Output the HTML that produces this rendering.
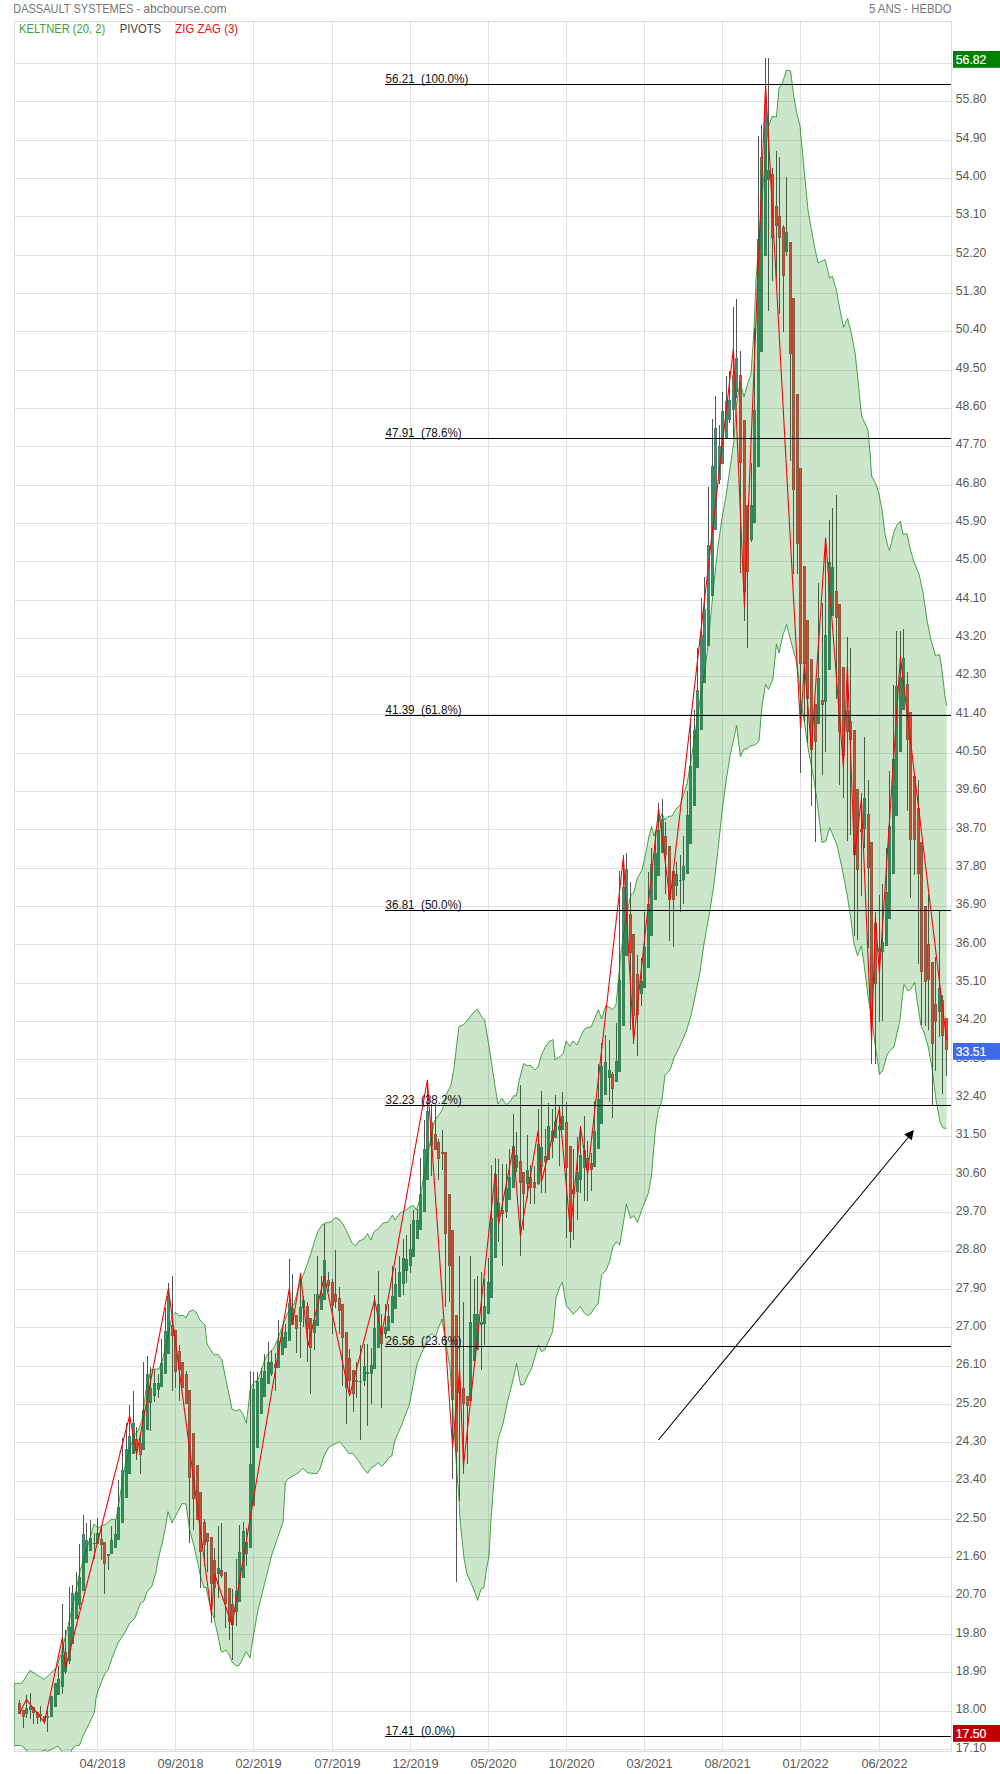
<!DOCTYPE html>
<html lang="fr"><head><meta charset="utf-8"><title>DASSAULT SYSTEMES - abcbourse.com</title>
<style>html,body{margin:0;padding:0;background:#fff}svg{display:block}</style></head>
<body>
<svg width="1000" height="1774" viewBox="0 0 1000 1774" font-family="'Liberation Sans', sans-serif" font-size="12.2">
<rect width="1000" height="1774" fill="#fff"/>
<path d="M14.5 63.5H951.5 M14.5 101.5H951.5 M14.5 140.5H951.5 M14.5 178.5H951.5 M14.5 216.5H951.5 M14.5 255.5H951.5 M14.5 293.5H951.5 M14.5 331.5H951.5 M14.5 370.5H951.5 M14.5 408.5H951.5 M14.5 446.5H951.5 M14.5 485.5H951.5 M14.5 523.5H951.5 M14.5 561.5H951.5 M14.5 600.5H951.5 M14.5 638.5H951.5 M14.5 676.5H951.5 M14.5 714.5H951.5 M14.5 753.5H951.5 M14.5 791.5H951.5 M14.5 829.5H951.5 M14.5 868.5H951.5 M14.5 906.5H951.5 M14.5 944.5H951.5 M14.5 983.5H951.5 M14.5 1021.5H951.5 M14.5 1059.5H951.5 M14.5 1098.5H951.5 M14.5 1136.5H951.5 M14.5 1174.5H951.5 M14.5 1212.5H951.5 M14.5 1251.5H951.5 M14.5 1289.5H951.5 M14.5 1327.5H951.5 M14.5 1366.5H951.5 M14.5 1404.5H951.5 M14.5 1442.5H951.5 M14.5 1481.5H951.5 M14.5 1519.5H951.5 M14.5 1557.5H951.5 M14.5 1596.5H951.5 M14.5 1634.5H951.5 M14.5 1672.5H951.5 M14.5 1711.5H951.5 M14.5 1749.5H951.5 M97.5 21.5V1751.5 M175.5 21.5V1751.5 M253.5 21.5V1751.5 M332.5 21.5V1751.5 M410.5 21.5V1751.5 M488.5 21.5V1751.5 M566.5 21.5V1751.5 M644.5 21.5V1751.5 M722.5 21.5V1751.5 M800.5 21.5V1751.5 M879.5 21.5V1751.5" stroke="#e0e0e0" stroke-width="1" fill="none" shape-rendering="crispEdges"/>
<rect x="14.5" y="21.5" width="937.0" height="1730.0" fill="none" stroke="#dcdcdc" stroke-width="1" shape-rendering="crispEdges"/>
<clipPath id="cp"><rect x="14.0" y="21.5" width="938.0" height="1730.1"/></clipPath>
<g clip-path="url(#cp)">
<path d="M19.5 1700.0V1714.0M23.5 1710.0V1727.6M26.5 1695.0V1718.0M30.5 1693.4V1719.0M33.5 1707.0V1724.0M37.5 1711.6V1724.4M40.5 1706.0V1722.0M44.5 1715.6V1724.4M47.5 1706.0V1731.6M51.5 1696.4V1717.0M55.5 1683.0V1707.0M58.5 1666.0V1695.0M62.5 1604.0V1693.6M65.5 1630.0V1674.4M69.5 1587.0V1664.4M72.5 1585.0V1644.0M76.5 1571.6V1619.0M79.5 1544.0V1609.0M83.5 1515.0V1591.0M86.5 1523.0V1563.0M90.5 1520.0V1551.0M94.5 1533.0V1559.0M97.5 1518.0V1544.4M101.5 1525.6V1559.6M104.5 1542.4V1594.4M108.5 1553.6V1570.4M111.5 1526.4V1554.4M115.5 1520.0V1547.6M118.5 1480.0V1540.0M122.5 1438.0V1523.0M126.5 1423.0V1497.6M129.5 1405.0V1473.6M133.5 1391.0V1454.0M136.5 1427.0V1460.0M140.5 1434.0V1473.6M143.5 1362.0V1449.6M147.5 1356.0V1430.0M150.5 1367.0V1431.0M154.5 1370.0V1402.0M158.5 1374.0V1398.0M161.5 1339.0V1387.0M165.5 1308.0V1374.4M168.5 1283.0V1353.6M172.5 1276.0V1391.0M175.5 1330.0V1388.0M179.5 1345.0V1401.0M182.5 1361.6V1388.0M186.5 1371.0V1404.0M189.5 1389.6V1543.0M193.5 1433.0V1530.0M197.5 1465.0V1520.0M200.5 1492.0V1588.0M204.5 1519.0V1566.0M207.5 1533.0V1572.0M211.5 1537.0V1623.0M214.5 1548.0V1618.0M218.5 1526.0V1598.4M221.5 1523.0V1578.0M225.5 1572.4V1628.0M229.5 1588.0V1640.0M232.5 1589.0V1659.6M236.5 1559.0V1626.0M239.5 1525.0V1601.6M243.5 1522.0V1577.6M246.5 1528.0V1566.0M250.5 1371.0V1548.4M253.5 1372.0V1506.4M257.5 1372.0V1447.6M261.5 1368.0V1414.4M264.5 1354.0V1397.0M268.5 1342.0V1384.4M271.5 1350.0V1376.0M275.5 1353.0V1391.0M278.5 1320.0V1367.6M282.5 1326.0V1355.0M285.5 1324.0V1348.0M289.5 1259.0V1341.0M292.5 1274.0V1325.0M296.5 1315.0V1353.0M300.5 1273.0V1358.0M303.5 1296.0V1327.0M307.5 1302.0V1361.6M310.5 1317.6V1394.4M314.5 1294.0V1350.0M317.5 1256.0V1326.4M321.5 1276.0V1310.4M324.5 1224.0V1299.6M328.5 1272.0V1292.0M332.5 1279.0V1334.0M335.5 1250.0V1308.0M339.5 1287.0V1334.0M342.5 1304.4V1385.6M346.5 1332.4V1424.4M349.5 1349.0V1392.0M353.5 1370.0V1411.6M356.5 1362.0V1398.0M360.5 1345.0V1440.0M364.5 1344.4V1386.4M367.5 1344.0V1425.6M371.5 1348.0V1403.6M374.5 1295.0V1369.0M378.5 1271.0V1348.4M381.5 1314.0V1408.4M385.5 1304.0V1338.0M388.5 1304.0V1331.0M392.5 1266.0V1323.0M395.5 1268.0V1309.0M399.5 1256.0V1297.0M403.5 1239.0V1295.0M406.5 1235.0V1283.0M410.5 1224.0V1273.0M413.5 1210.0V1257.0M417.5 1209.0V1239.0M420.5 1158.0V1229.6M424.5 1120.0V1212.4M427.5 1080.0V1180.4M431.5 1104.0V1176.0M435.5 1104.0V1150.4M438.5 1139.0V1180.0M442.5 1130.0V1170.0M445.5 1152.4V1307.0M449.5 1193.6V1302.0M452.5 1230.4V1478.6M456.5 1315.0V1582.4M459.5 1256.0V1500.6M463.5 1302.0V1474.0M467.5 1396.0V1464.0M470.5 1256.0V1401.0M474.5 1279.0V1361.0M477.5 1276.0V1350.0M481.5 1272.0V1370.0M484.5 1278.0V1345.0M488.5 1258.0V1314.0M491.5 1165.0V1297.6M495.5 1158.0V1258.4M498.5 1159.0V1242.0M502.5 1164.0V1265.6M506.5 1164.0V1218.0M509.5 1149.0V1200.0M513.5 1114.0V1188.4M516.5 1132.0V1172.0M520.5 1085.0V1255.6M523.5 1172.4V1229.6M527.5 1135.0V1198.0M530.5 1165.0V1204.0M534.5 1166.0V1204.4M538.5 1109.0V1184.5M541.5 1091.0V1193.0M545.5 1129.0V1193.0M548.5 1103.0V1159.6M552.5 1109.0V1158.0M555.5 1095.0V1137.5M559.5 1106.0V1166.0M562.5 1092.0V1129.6M566.5 1102.0V1238.0M570.5 1145.6V1247.6M573.5 1148.8V1239.7M577.5 1137.0V1219.6M580.5 1126.0V1192.8M584.5 1116.0V1200.8M587.5 1140.8V1200.8M591.5 1152.8V1190.7M594.5 1100.8V1166.7M598.5 1064.0V1149.0M601.5 1043.0V1124.0M605.5 1035.0V1095.0M609.5 1040.0V1102.0M612.5 1072.0V1117.6M616.5 1023.0V1082.0M619.5 871.0V1071.6M623.5 855.0V1026.4M626.5 853.0V956.4M630.5 882.0V1030.0M633.5 933.6V1044.0M637.5 955.0V1055.6M641.5 958.0V1005.6M644.5 912.0V988.4M648.5 872.0V967.6M651.5 848.0V935.6M655.5 832.0V899.6M658.5 803.0V876.0M662.5 799.0V853.0M665.5 822.0V893.6M669.5 846.4V941.0M673.5 871.0V947.0M676.5 862.0V896.0M680.5 855.0V911.6M683.5 836.0V904.4M687.5 791.0V873.6M690.5 724.0V844.0M694.5 710.0V805.6M697.5 648.0V767.6M701.5 598.0V729.6M704.5 577.0V683.0M708.5 487.0V645.6M712.5 419.0V595.6M715.5 396.0V530.4M719.5 425.0V484.0M722.5 392.0V463.6M726.5 376.0V437.6M729.5 371.0V423.0M733.5 307.0V438.0M736.5 299.0V398.0M740.5 351.0V573.0M744.5 419.6V621.0M747.5 505.0V648.0M751.5 463.0V541.6M754.5 328.0V523.0M758.5 136.0V467.0M761.5 125.0V352.4M765.5 58.0V255.6M768.5 58.0V311.0M772.5 168.0V281.0M776.5 151.0V279.0M779.5 157.0V313.6M783.5 225.0V331.6M786.5 177.0V255.6M790.5 242.0V461.0M793.5 298.0V573.6M797.5 394.0V574.0M800.5 468.0V773.0M804.5 566.0V722.0M807.5 620.4V743.0M811.5 659.0V805.6M815.5 704.0V841.6M818.5 583.0V723.6M822.5 603.0V775.0M825.5 538.0V752.0M829.5 520.0V669.6M832.5 508.0V616.0M836.5 495.0V698.5M839.5 604.0V785.0M843.5 667.0V798.0M847.5 637.0V840.5M850.5 648.0V834.5M854.5 730.0V936.0M857.5 789.0V939.6M861.5 793.0V896.0M864.5 737.0V848.0M868.5 780.0V948.4M871.5 841.6V1064.4M875.5 912.0V1063.6M879.5 895.0V1022.4M882.5 884.0V1021.0M886.5 848.0V946.4M889.5 771.0V919.0M893.5 685.0V873.6M896.5 631.0V816.4M900.5 631.0V751.6M903.5 629.0V710.4M907.5 672.0V811.0M910.5 712.0V898.0M914.5 776.0V875.0M918.5 780.0V964.0M921.5 841.6V1025.0M925.5 906.4V1025.6M928.5 894.0V1030.4M932.5 961.6V1105.0M935.5 957.0V1071.0M939.5 911.0V1037.0M942.5 995.0V1093.6M946.5 1018.0V1076.4" stroke="#555555" stroke-width="1" fill="none" shape-rendering="crispEdges"/>
<path d="M25.0 1708h3v6h-3zM29.0 1706h3v4h-3zM46.0 1716h3v2h-3zM50.0 1696h3v21h-3zM54.0 1683h3v24h-3zM57.0 1679h3v16h-3zM61.0 1655h3v32h-3zM64.0 1652h3v20h-3zM68.0 1627h3v34h-3zM71.0 1593h3v51h-3zM75.0 1592h3v27h-3zM78.0 1577h3v28h-3zM82.0 1534h3v57h-3zM85.0 1540h3v23h-3zM89.0 1538h3v13h-3zM93.0 1543h3v1h-3zM96.0 1533h3v11h-3zM110.0 1540h3v14h-3zM114.0 1534h3v14h-3zM117.0 1507h3v33h-3zM121.0 1470h3v53h-3zM125.0 1449h3v49h-3zM128.0 1436h3v38h-3zM132.0 1423h3v31h-3zM142.0 1410h3v40h-3zM146.0 1374h3v56h-3zM149.0 1388h3v15h-3zM153.0 1383h3v13h-3zM157.0 1383h3v7h-3zM160.0 1363h3v24h-3zM164.0 1331h3v43h-3zM167.0 1296h3v58h-3zM217.0 1568h3v6h-3zM235.0 1591h3v21h-3zM238.0 1552h3v50h-3zM242.0 1531h3v47h-3zM245.0 1542h3v12h-3zM249.0 1464h3v84h-3zM252.0 1389h3v117h-3zM256.0 1381h3v67h-3zM260.0 1378h3v36h-3zM263.0 1371h3v26h-3zM267.0 1362h3v22h-3zM270.0 1362h3v12h-3zM277.0 1341h3v27h-3zM281.0 1337h3v18h-3zM284.0 1332h3v16h-3zM288.0 1303h3v38h-3zM291.0 1308h3v17h-3zM299.0 1307h3v15h-3zM302.0 1300h3v8h-3zM313.0 1320h3v13h-3zM316.0 1294h3v32h-3zM320.0 1293h3v17h-3zM323.0 1260h3v40h-3zM355.0 1380h3v2h-3zM359.0 1381h3v1h-3zM363.0 1366h3v15h-3zM366.0 1372h3v2h-3zM370.0 1365h3v9h-3zM373.0 1328h3v41h-3zM377.0 1304h3v44h-3zM384.0 1327h3v7h-3zM387.0 1316h3v15h-3zM391.0 1296h3v27h-3zM394.0 1284h3v25h-3zM398.0 1272h3v25h-3zM402.0 1258h3v26h-3zM405.0 1259h3v12h-3zM409.0 1249h3v17h-3zM412.0 1220h3v37h-3zM416.0 1220h3v19h-3zM419.0 1194h3v36h-3zM423.0 1149h3v63h-3zM426.0 1111h3v69h-3zM469.0 1322h3v79h-3zM473.0 1314h3v47h-3zM476.0 1314h3v36h-3zM480.0 1322h3v3h-3zM483.0 1306h3v18h-3zM487.0 1282h3v32h-3zM490.0 1218h3v80h-3zM494.0 1174h3v84h-3zM497.0 1203h3v14h-3zM505.0 1188h3v24h-3zM508.0 1177h3v23h-3zM512.0 1146h3v42h-3zM515.0 1155h3v13h-3zM526.0 1170h3v14h-3zM537.0 1144h3v40h-3zM540.0 1147h3v20h-3zM547.0 1126h3v34h-3zM551.0 1131h3v11h-3zM554.0 1121h3v17h-3zM558.0 1126h3v4h-3zM561.0 1116h3v14h-3zM576.0 1172h3v20h-3zM579.0 1155h3v25h-3zM583.0 1150h3v18h-3zM593.0 1131h3v36h-3zM597.0 1099h3v50h-3zM600.0 1066h3v58h-3zM604.0 1062h3v33h-3zM608.0 1070h3v8h-3zM615.0 1061h3v21h-3zM618.0 980h3v92h-3zM622.0 887h3v139h-3zM625.0 869h3v87h-3zM640.0 981h3v13h-3zM643.0 947h3v41h-3zM647.0 904h3v64h-3zM650.0 864h3v72h-3zM654.0 853h3v47h-3zM657.0 830h3v46h-3zM661.0 819h3v34h-3zM675.0 874h3v12h-3zM679.0 880h3v1h-3zM682.0 866h3v14h-3zM686.0 815h3v59h-3zM689.0 766h3v78h-3zM693.0 730h3v76h-3zM696.0 690h3v78h-3zM700.0 635h3v95h-3zM703.0 609h3v74h-3zM707.0 545h3v101h-3zM711.0 466h3v130h-3zM714.0 428h3v102h-3zM718.0 446h3v34h-3zM721.0 411h3v53h-3zM725.0 401h3v37h-3zM728.0 400h3v20h-3zM732.0 375h3v35h-3zM735.0 358h3v34h-3zM750.0 505h3v35h-3zM753.0 410h3v113h-3zM757.0 239h3v228h-3zM760.0 157h3v195h-3zM764.0 106h3v150h-3zM767.0 170h3v10h-3zM785.0 232h3v20h-3zM817.0 678h3v46h-3zM824.0 635h3v67h-3zM828.0 562h3v108h-3zM831.0 567h3v49h-3zM863.0 798h3v31h-3zM878.0 948h3v4h-3zM881.0 942h3v10h-3zM885.0 892h3v54h-3zM888.0 826h3v93h-3zM892.0 759h3v115h-3zM895.0 686h3v130h-3zM899.0 677h3v75h-3zM902.0 658h3v52h-3zM938.0 988h3v24h-3z" fill="#46806c" shape-rendering="crispEdges"/>
<path d="M18.0 1703h3v11h-3zM22.0 1710h3v7h-3zM32.0 1707h3v6h-3zM36.0 1712h3v6h-3zM39.0 1714h3v2h-3zM43.0 1716h3v5h-3zM100.0 1539h3v6h-3zM103.0 1542h3v22h-3zM107.0 1554h3v2h-3zM135.0 1439h3v11h-3zM139.0 1443h3v12h-3zM171.0 1325h3v11h-3zM174.0 1330h3v42h-3zM178.0 1351h3v19h-3zM181.0 1362h3v26h-3zM185.0 1374h3v30h-3zM188.0 1390h3v88h-3zM192.0 1433h3v66h-3zM196.0 1465h3v55h-3zM199.0 1492h3v60h-3zM203.0 1522h3v23h-3zM206.0 1533h3v9h-3zM210.0 1537h3v47h-3zM213.0 1560h3v28h-3zM220.0 1570h3v6h-3zM224.0 1572h3v32h-3zM228.0 1588h3v34h-3zM231.0 1604h3v21h-3zM274.0 1364h3v4h-3zM295.0 1315h3v14h-3zM306.0 1306h3v23h-3zM309.0 1318h3v30h-3zM327.0 1280h3v6h-3zM331.0 1282h3v24h-3zM334.0 1294h3v8h-3zM338.0 1298h3v13h-3zM341.0 1304h3v34h-3zM345.0 1332h3v56h-3zM348.0 1358h3v23h-3zM352.0 1370h3v24h-3zM380.0 1328h3v16h-3zM430.0 1122h3v24h-3zM434.0 1134h3v16h-3zM437.0 1142h3v17h-3zM441.0 1152h3v2h-3zM444.0 1152h3v82h-3zM448.0 1194h3v72h-3zM451.0 1230h3v170h-3zM455.0 1315h3v137h-3zM458.0 1382h3v11h-3zM462.0 1388h3v16h-3zM466.0 1396h3v10h-3zM501.0 1210h3v4h-3zM519.0 1161h3v22h-3zM522.0 1172h3v22h-3zM529.0 1177h3v11h-3zM533.0 1182h3v6h-3zM544.0 1156h3v6h-3zM565.0 1122h3v46h-3zM569.0 1146h3v86h-3zM572.0 1189h3v5h-3zM586.0 1158h3v12h-3zM590.0 1163h3v7h-3zM611.0 1074h3v15h-3zM629.0 914h3v39h-3zM632.0 934h3v82h-3zM636.0 974h3v41h-3zM664.0 836h3v19h-3zM668.0 846h3v54h-3zM672.0 871h3v29h-3zM739.0 375h3v88h-3zM743.0 420h3v172h-3zM746.0 505h3v67h-3zM771.0 174h3v64h-3zM775.0 206h3v20h-3zM778.0 216h3v22h-3zM782.0 227h3v49h-3zM789.0 242h3v112h-3zM792.0 298h3v192h-3zM796.0 394h3v150h-3zM799.0 468h3v196h-3zM803.0 566h3v98h-3zM806.0 620h3v79h-3zM810.0 659h3v91h-3zM814.0 704h3v38h-3zM821.0 700h3v5h-3zM835.0 591h3v27h-3zM838.0 604h3v128h-3zM842.0 667h3v89h-3zM846.0 711h3v21h-3zM849.0 721h3v19h-3zM853.0 730h3v125h-3zM856.0 789h3v81h-3zM860.0 829h3v3h-3zM867.0 814h3v54h-3zM870.0 842h3v166h-3zM874.0 923h3v61h-3zM906.0 684h3v56h-3zM909.0 712h3v128h-3zM913.0 776h3v64h-3zM917.0 808h3v66h-3zM920.0 842h3v130h-3zM924.0 906h3v76h-3zM927.0 944h3v36h-3zM931.0 962h3v82h-3zM934.0 1004h3v18h-3zM941.0 1000h3v36h-3zM945.0 1018h3v32h-3z" fill="#b84a4c" shape-rendering="crispEdges"/>
<path d="M26.0 1709h1v4h-1zM30.0 1707h1v2h-1zM51.0 1697h1v19h-1zM55.0 1684h1v22h-1zM58.0 1680h1v14h-1zM62.0 1656h1v30h-1zM65.0 1653h1v18h-1zM69.0 1628h1v32h-1zM72.0 1594h1v49h-1zM76.0 1593h1v25h-1zM79.0 1578h1v26h-1zM83.0 1535h1v55h-1zM86.0 1541h1v21h-1zM90.0 1539h1v11h-1zM97.0 1534h1v9h-1zM111.0 1541h1v12h-1zM115.0 1535h1v12h-1zM118.0 1508h1v31h-1zM122.0 1471h1v51h-1zM126.0 1450h1v47h-1zM129.0 1437h1v36h-1zM133.0 1424h1v29h-1zM143.0 1411h1v38h-1zM147.0 1375h1v54h-1zM150.0 1389h1v13h-1zM154.0 1384h1v11h-1zM158.0 1384h1v5h-1zM161.0 1364h1v22h-1zM165.0 1332h1v41h-1zM168.0 1297h1v56h-1zM218.0 1569h1v4h-1zM236.0 1592h1v19h-1zM239.0 1553h1v48h-1zM243.0 1532h1v45h-1zM246.0 1543h1v10h-1zM250.0 1465h1v82h-1zM253.0 1390h1v115h-1zM257.0 1382h1v65h-1zM261.0 1379h1v34h-1zM264.0 1372h1v24h-1zM268.0 1363h1v20h-1zM271.0 1363h1v10h-1zM278.0 1342h1v25h-1zM282.0 1338h1v16h-1zM285.0 1333h1v14h-1zM289.0 1304h1v36h-1zM292.0 1309h1v15h-1zM300.0 1308h1v13h-1zM303.0 1301h1v6h-1zM314.0 1321h1v11h-1zM317.0 1295h1v30h-1zM321.0 1294h1v15h-1zM324.0 1261h1v38h-1zM364.0 1367h1v13h-1zM371.0 1366h1v7h-1zM374.0 1329h1v39h-1zM378.0 1305h1v42h-1zM385.0 1328h1v5h-1zM388.0 1317h1v13h-1zM392.0 1297h1v25h-1zM395.0 1285h1v23h-1zM399.0 1273h1v23h-1zM403.0 1259h1v24h-1zM406.0 1260h1v10h-1zM410.0 1250h1v15h-1zM413.0 1221h1v35h-1zM417.0 1221h1v17h-1zM420.0 1195h1v34h-1zM424.0 1150h1v61h-1zM427.0 1112h1v67h-1zM470.0 1323h1v77h-1zM474.0 1315h1v45h-1zM477.0 1315h1v34h-1zM481.0 1323h1v1h-1zM484.0 1307h1v16h-1zM488.0 1283h1v30h-1zM491.0 1219h1v78h-1zM495.0 1175h1v82h-1zM498.0 1204h1v12h-1zM506.0 1189h1v22h-1zM509.0 1178h1v21h-1zM513.0 1147h1v40h-1zM516.0 1156h1v11h-1zM527.0 1171h1v12h-1zM538.0 1145h1v38h-1zM541.0 1148h1v18h-1zM548.0 1127h1v32h-1zM552.0 1132h1v9h-1zM555.0 1122h1v15h-1zM559.0 1127h1v2h-1zM562.0 1117h1v12h-1zM577.0 1173h1v18h-1zM580.0 1156h1v23h-1zM584.0 1151h1v16h-1zM594.0 1132h1v34h-1zM598.0 1100h1v48h-1zM601.0 1067h1v56h-1zM605.0 1063h1v31h-1zM609.0 1071h1v6h-1zM616.0 1062h1v19h-1zM619.0 981h1v90h-1zM623.0 888h1v137h-1zM626.0 870h1v85h-1zM641.0 982h1v11h-1zM644.0 948h1v39h-1zM648.0 905h1v62h-1zM651.0 865h1v70h-1zM655.0 854h1v45h-1zM658.0 831h1v44h-1zM662.0 820h1v32h-1zM676.0 875h1v10h-1zM683.0 867h1v12h-1zM687.0 816h1v57h-1zM690.0 767h1v76h-1zM694.0 731h1v74h-1zM697.0 691h1v76h-1zM701.0 636h1v93h-1zM704.0 610h1v72h-1zM708.0 546h1v99h-1zM712.0 467h1v128h-1zM715.0 429h1v100h-1zM719.0 447h1v32h-1zM722.0 412h1v51h-1zM726.0 402h1v35h-1zM729.0 401h1v18h-1zM733.0 376h1v33h-1zM736.0 359h1v32h-1zM751.0 506h1v33h-1zM754.0 411h1v111h-1zM758.0 240h1v226h-1zM761.0 158h1v193h-1zM765.0 107h1v148h-1zM768.0 171h1v8h-1zM786.0 233h1v18h-1zM818.0 679h1v44h-1zM825.0 636h1v65h-1zM829.0 563h1v106h-1zM832.0 568h1v47h-1zM864.0 799h1v29h-1zM879.0 949h1v2h-1zM882.0 943h1v8h-1zM886.0 893h1v52h-1zM889.0 827h1v91h-1zM893.0 760h1v113h-1zM896.0 687h1v128h-1zM900.0 678h1v73h-1zM903.0 659h1v50h-1zM939.0 989h1v22h-1z" fill="#32966e" shape-rendering="crispEdges"/>
<path d="M19.0 1704h1v9h-1zM23.0 1711h1v5h-1zM33.0 1708h1v4h-1zM37.0 1713h1v4h-1zM44.0 1717h1v3h-1zM101.0 1540h1v4h-1zM104.0 1543h1v20h-1zM136.0 1440h1v9h-1zM140.0 1444h1v10h-1zM172.0 1326h1v9h-1zM175.0 1331h1v40h-1zM179.0 1352h1v17h-1zM182.0 1363h1v24h-1zM186.0 1375h1v28h-1zM189.0 1391h1v86h-1zM193.0 1434h1v64h-1zM197.0 1466h1v53h-1zM200.0 1493h1v58h-1zM204.0 1523h1v21h-1zM207.0 1534h1v7h-1zM211.0 1538h1v45h-1zM214.0 1561h1v26h-1zM221.0 1571h1v4h-1zM225.0 1573h1v30h-1zM229.0 1589h1v32h-1zM232.0 1605h1v19h-1zM275.0 1365h1v2h-1zM296.0 1316h1v12h-1zM307.0 1307h1v21h-1zM310.0 1319h1v28h-1zM328.0 1281h1v4h-1zM332.0 1283h1v22h-1zM335.0 1295h1v6h-1zM339.0 1299h1v11h-1zM342.0 1305h1v32h-1zM346.0 1333h1v54h-1zM349.0 1359h1v21h-1zM353.0 1371h1v22h-1zM381.0 1329h1v14h-1zM431.0 1123h1v22h-1zM435.0 1135h1v14h-1zM438.0 1143h1v15h-1zM445.0 1153h1v80h-1zM449.0 1195h1v70h-1zM452.0 1231h1v168h-1zM456.0 1316h1v135h-1zM459.0 1383h1v9h-1zM463.0 1389h1v14h-1zM467.0 1397h1v8h-1zM502.0 1211h1v2h-1zM520.0 1162h1v20h-1zM523.0 1173h1v20h-1zM530.0 1178h1v9h-1zM534.0 1183h1v4h-1zM545.0 1157h1v4h-1zM566.0 1123h1v44h-1zM570.0 1147h1v84h-1zM573.0 1190h1v3h-1zM587.0 1159h1v10h-1zM591.0 1164h1v5h-1zM612.0 1075h1v13h-1zM630.0 915h1v37h-1zM633.0 935h1v80h-1zM637.0 975h1v39h-1zM665.0 837h1v17h-1zM669.0 847h1v52h-1zM673.0 872h1v27h-1zM740.0 376h1v86h-1zM744.0 421h1v170h-1zM747.0 506h1v65h-1zM772.0 175h1v62h-1zM776.0 207h1v18h-1zM779.0 217h1v20h-1zM783.0 228h1v47h-1zM790.0 243h1v110h-1zM793.0 299h1v190h-1zM797.0 395h1v148h-1zM800.0 469h1v194h-1zM804.0 567h1v96h-1zM807.0 621h1v77h-1zM811.0 660h1v89h-1zM815.0 705h1v36h-1zM822.0 701h1v3h-1zM836.0 592h1v25h-1zM839.0 605h1v126h-1zM843.0 668h1v87h-1zM847.0 712h1v19h-1zM850.0 722h1v17h-1zM854.0 731h1v123h-1zM857.0 790h1v79h-1zM861.0 830h1v1h-1zM868.0 815h1v52h-1zM871.0 843h1v164h-1zM875.0 924h1v59h-1zM907.0 685h1v54h-1zM910.0 713h1v126h-1zM914.0 777h1v62h-1zM918.0 809h1v64h-1zM921.0 843h1v128h-1zM925.0 907h1v74h-1zM928.0 945h1v34h-1zM932.0 963h1v80h-1zM935.0 1005h1v16h-1zM942.0 1001h1v34h-1zM946.0 1019h1v30h-1z" fill="#ff4444" shape-rendering="crispEdges"/>
<path d="M14.0 1683.6 L22.0 1683.0 L30.0 1670.4 L44.0 1679.4 L54.0 1670.0 L57.0 1667.0 L62.0 1650.0 L68.0 1626.0 L74.0 1600.0 L80.0 1571.0 L84.0 1558.0 L90.0 1538.0 L94.0 1524.0 L98.0 1528.0 L102.0 1525.6 L106.0 1524.0 L112.0 1519.0 L116.0 1520.0 L118.0 1508.0 L126.0 1460.0 L134.0 1436.0 L138.0 1431.0 L142.0 1420.0 L146.0 1390.0 L151.0 1370.0 L155.0 1369.0 L159.0 1369.0 L162.0 1362.0 L167.0 1340.0 L170.0 1326.0 L172.0 1316.0 L175.0 1312.4 L180.0 1316.0 L183.0 1315.0 L186.0 1318.0 L189.0 1311.6 L193.0 1310.0 L196.0 1312.0 L200.0 1320.0 L205.0 1325.0 L207.0 1344.0 L214.0 1355.0 L218.0 1354.4 L222.0 1360.0 L226.0 1380.0 L232.0 1409.0 L236.0 1411.0 L239.6 1409.4 L243.0 1414.0 L246.4 1423.0 L248.4 1406.0 L250.0 1390.0 L254.0 1382.0 L258.0 1380.0 L264.0 1362.0 L267.0 1355.0 L274.0 1348.0 L280.0 1333.0 L287.0 1314.0 L294.0 1304.0 L299.0 1286.0 L304.0 1273.0 L310.0 1256.0 L314.0 1243.0 L318.0 1231.0 L322.0 1225.0 L325.0 1223.0 L331.0 1222.0 L335.0 1217.6 L339.0 1219.0 L343.0 1224.0 L347.0 1232.0 L352.0 1243.0 L355.6 1246.0 L359.0 1241.0 L364.0 1239.0 L367.6 1233.6 L371.0 1240.0 L374.0 1231.6 L378.0 1229.0 L383.0 1223.0 L388.0 1222.0 L392.4 1215.0 L395.0 1220.0 L400.0 1213.0 L406.0 1210.0 L410.0 1207.0 L413.4 1205.4 L416.4 1210.0 L419.0 1202.0 L420.0 1198.0 L424.0 1174.0 L429.0 1148.0 L434.0 1122.0 L437.0 1117.0 L441.0 1112.0 L444.0 1105.0 L446.0 1095.0 L451.0 1085.0 L454.0 1068.0 L457.0 1042.0 L459.0 1026.4 L463.0 1025.0 L467.0 1021.0 L473.0 1013.0 L477.4 1009.0 L481.0 1015.6 L484.6 1020.0 L487.0 1034.0 L491.0 1059.0 L495.0 1086.0 L498.0 1104.0 L502.0 1098.4 L506.0 1104.4 L509.0 1103.0 L514.0 1095.6 L516.4 1096.0 L519.0 1081.0 L523.6 1063.6 L527.0 1065.6 L531.0 1065.6 L535.0 1070.0 L538.0 1067.0 L541.0 1056.0 L545.0 1047.6 L549.0 1041.6 L553.0 1039.6 L555.0 1059.6 L560.0 1056.4 L563.0 1054.0 L566.0 1041.0 L570.0 1046.4 L573.0 1041.0 L577.0 1045.0 L580.0 1038.0 L584.0 1029.6 L587.0 1027.6 L591.0 1027.0 L595.0 1018.0 L598.4 1009.6 L601.6 1019.0 L605.6 1006.0 L609.0 1007.0 L612.4 1009.6 L616.0 1005.0 L618.4 980.0 L621.0 952.0 L624.0 932.0 L627.0 912.0 L631.0 894.4 L633.6 893.0 L637.0 879.0 L642.0 870.0 L646.0 852.0 L649.0 836.0 L651.6 826.4 L654.0 836.0 L657.0 826.0 L662.0 813.6 L665.0 820.0 L668.0 816.4 L672.0 816.0 L676.0 809.0 L679.0 806.0 L680.0 805.6 L687.0 784.0 L691.0 760.0 L695.0 734.0 L700.0 700.0 L704.0 676.0 L708.0 646.0 L713.0 592.0 L718.0 546.0 L722.0 518.0 L726.0 496.0 L734.0 440.0 L736.0 408.0 L740.0 382.0 L744.0 397.0 L747.6 384.0 L751.0 374.0 L754.0 330.0 L756.0 280.0 L765.0 160.0 L768.0 128.0 L772.0 116.4 L776.4 117.0 L779.0 88.0 L782.0 84.0 L786.6 70.0 L790.6 71.0 L794.0 98.0 L797.0 114.0 L800.0 126.0 L804.0 168.0 L808.0 210.0 L814.0 244.0 L818.0 263.0 L825.0 259.4 L829.6 278.0 L832.4 276.4 L836.4 290.0 L840.0 310.0 L843.6 327.4 L847.6 318.4 L851.0 332.0 L855.0 352.0 L858.0 380.0 L861.6 416.0 L868.0 430.0 L870.0 452.0 L871.6 476.0 L876.0 484.0 L879.0 494.0 L882.0 510.0 L885.0 534.0 L888.0 547.0 L889.6 550.4 L892.0 540.0 L894.0 531.6 L897.0 525.0 L900.4 521.0 L903.0 534.4 L907.0 533.6 L910.0 548.0 L914.0 562.0 L919.0 574.0 L923.0 592.0 L927.0 620.0 L931.0 640.0 L935.6 656.0 L939.6 654.4 L942.0 670.0 L945.0 696.0 L946.6 705.6 L946.6 1128.4 L943.0 1128.0 L940.0 1122.0 L936.0 1100.0 L932.0 1068.0 L928.0 1046.0 L924.0 1032.4 L921.0 1026.0 L917.0 1000.0 L914.6 982.4 L911.0 989.0 L908.0 991.0 L904.0 984.4 L902.0 1000.0 L900.0 1020.0 L894.0 1047.0 L889.6 1051.0 L887.0 1055.0 L883.0 1070.0 L879.6 1074.6 L875.0 1044.0 L872.0 1020.0 L868.0 996.0 L864.0 964.0 L861.4 946.0 L857.6 955.6 L854.0 944.0 L851.0 920.0 L847.0 894.0 L842.0 868.0 L837.0 845.0 L829.6 827.4 L826.0 841.0 L822.0 842.4 L817.0 800.0 L814.0 780.0 L808.0 748.0 L804.0 720.0 L800.6 700.0 L799.0 680.0 L796.0 660.0 L790.0 638.0 L786.6 624.4 L783.0 635.0 L779.0 653.0 L776.4 644.4 L773.0 679.0 L768.4 689.4 L765.6 684.4 L762.0 706.0 L759.0 741.0 L755.0 745.0 L751.0 745.6 L747.0 749.0 L744.0 749.0 L740.4 756.6 L736.6 725.6 L734.0 738.0 L730.0 756.0 L726.0 782.0 L722.0 812.0 L718.0 850.0 L714.0 884.0 L710.0 910.0 L704.0 944.0 L700.0 972.0 L696.0 992.0 L691.0 1016.0 L686.0 1032.0 L680.0 1046.0 L674.0 1058.0 L670.0 1070.0 L665.0 1075.0 L661.9 1100.8 L658.4 1110.4 L655.5 1128.0 L653.6 1150.4 L651.7 1174.4 L648.5 1192.8 L642.4 1208.0 L637.6 1222.4 L633.6 1215.7 L630.4 1218.4 L626.4 1204.0 L623.2 1224.0 L619.7 1245.3 L616.5 1241.6 L612.8 1247.2 L609.6 1261.6 L605.9 1270.4 L601.6 1275.2 L599.5 1292.8 L598.4 1303.2 L594.4 1308.0 L590.9 1313.6 L587.7 1315.5 L584.0 1312.8 L580.3 1306.4 L573.3 1314.4 L566.4 1305.6 L564.0 1294.0 L564.0 1292.8 L562.4 1282.4 L560.0 1286.0 L556.0 1298.0 L554.0 1320.0 L552.6 1331.6 L549.0 1340.0 L545.0 1349.6 L541.6 1351.6 L538.4 1345.0 L534.0 1360.0 L531.0 1370.0 L528.0 1375.0 L523.6 1385.0 L520.6 1385.0 L516.6 1363.6 L514.0 1376.0 L510.0 1392.0 L507.0 1404.0 L503.0 1424.0 L498.4 1438.0 L496.0 1456.0 L494.0 1480.0 L491.0 1520.0 L489.0 1556.0 L486.4 1570.0 L484.0 1587.4 L481.0 1589.0 L477.6 1600.4 L474.0 1590.0 L471.0 1583.0 L467.0 1574.0 L464.0 1558.0 L460.0 1520.0 L459.0 1500.0 L456.0 1460.0 L453.0 1412.0 L450.0 1368.0 L447.0 1350.0 L442.0 1319.0 L438.4 1328.0 L435.6 1337.0 L432.0 1333.6 L428.0 1336.0 L425.0 1346.0 L422.0 1352.0 L417.0 1364.0 L413.0 1386.0 L409.0 1406.0 L402.0 1424.0 L396.0 1438.0 L394.0 1444.0 L392.0 1455.6 L389.0 1457.6 L385.0 1463.0 L381.6 1466.4 L378.0 1462.4 L376.0 1465.0 L371.0 1468.0 L367.6 1473.4 L363.0 1468.0 L358.0 1460.0 L352.4 1453.0 L349.0 1453.6 L344.0 1447.0 L339.6 1441.6 L334.0 1444.4 L329.0 1447.0 L324.0 1456.0 L320.0 1469.0 L317.0 1473.6 L308.0 1473.0 L303.0 1468.4 L298.0 1473.0 L289.0 1478.0 L285.4 1482.0 L284.0 1506.0 L283.0 1522.0 L279.0 1534.0 L272.0 1554.0 L264.0 1586.0 L258.0 1610.0 L253.0 1638.0 L250.0 1658.0 L246.0 1651.6 L243.0 1658.0 L239.0 1665.6 L236.0 1665.6 L232.0 1662.0 L229.0 1654.0 L226.0 1650.0 L223.0 1652.0 L221.0 1651.0 L218.0 1636.0 L214.0 1618.0 L211.0 1610.0 L206.0 1587.0 L204.0 1588.0 L200.0 1574.0 L194.0 1546.0 L189.6 1530.0 L187.6 1516.0 L186.0 1504.0 L182.0 1503.6 L172.0 1523.0 L168.0 1511.6 L165.4 1528.0 L162.0 1544.0 L158.0 1560.0 L156.0 1572.0 L152.0 1586.0 L147.0 1592.0 L144.0 1601.0 L140.0 1604.0 L135.0 1618.0 L130.0 1623.0 L124.0 1634.0 L118.0 1643.0 L112.0 1658.0 L108.0 1670.0 L105.0 1673.6 L103.0 1678.0 L98.0 1691.0 L96.0 1698.0 L94.6 1712.0 L89.0 1724.0 L83.0 1736.0 L79.5 1745.3 L76.5 1745.5 L73.0 1747.5 L71.0 1751.8 L69.0 1756.0 L64.0 1756.0 L62.0 1751.8 L58.0 1746.0 L47.5 1751.5 L44.5 1750.0 L41.0 1751.8 L38.0 1756.0 L30.0 1756.0 L27.0 1751.2 L23.0 1746.5 L20.0 1745.5 L14.5 1745.5Z" fill="rgba(0,128,0,0.2)" stroke="none"/>
<polyline points="14.0,1683.6 22.0,1683.0 30.0,1670.4 44.0,1679.4 54.0,1670.0 57.0,1667.0 62.0,1650.0 68.0,1626.0 74.0,1600.0 80.0,1571.0 84.0,1558.0 90.0,1538.0 94.0,1524.0 98.0,1528.0 102.0,1525.6 106.0,1524.0 112.0,1519.0 116.0,1520.0 118.0,1508.0 126.0,1460.0 134.0,1436.0 138.0,1431.0 142.0,1420.0 146.0,1390.0 151.0,1370.0 155.0,1369.0 159.0,1369.0 162.0,1362.0 167.0,1340.0 170.0,1326.0 172.0,1316.0 175.0,1312.4 180.0,1316.0 183.0,1315.0 186.0,1318.0 189.0,1311.6 193.0,1310.0 196.0,1312.0 200.0,1320.0 205.0,1325.0 207.0,1344.0 214.0,1355.0 218.0,1354.4 222.0,1360.0 226.0,1380.0 232.0,1409.0 236.0,1411.0 239.6,1409.4 243.0,1414.0 246.4,1423.0 248.4,1406.0 250.0,1390.0 254.0,1382.0 258.0,1380.0 264.0,1362.0 267.0,1355.0 274.0,1348.0 280.0,1333.0 287.0,1314.0 294.0,1304.0 299.0,1286.0 304.0,1273.0 310.0,1256.0 314.0,1243.0 318.0,1231.0 322.0,1225.0 325.0,1223.0 331.0,1222.0 335.0,1217.6 339.0,1219.0 343.0,1224.0 347.0,1232.0 352.0,1243.0 355.6,1246.0 359.0,1241.0 364.0,1239.0 367.6,1233.6 371.0,1240.0 374.0,1231.6 378.0,1229.0 383.0,1223.0 388.0,1222.0 392.4,1215.0 395.0,1220.0 400.0,1213.0 406.0,1210.0 410.0,1207.0 413.4,1205.4 416.4,1210.0 419.0,1202.0 420.0,1198.0 424.0,1174.0 429.0,1148.0 434.0,1122.0 437.0,1117.0 441.0,1112.0 444.0,1105.0 446.0,1095.0 451.0,1085.0 454.0,1068.0 457.0,1042.0 459.0,1026.4 463.0,1025.0 467.0,1021.0 473.0,1013.0 477.4,1009.0 481.0,1015.6 484.6,1020.0 487.0,1034.0 491.0,1059.0 495.0,1086.0 498.0,1104.0 502.0,1098.4 506.0,1104.4 509.0,1103.0 514.0,1095.6 516.4,1096.0 519.0,1081.0 523.6,1063.6 527.0,1065.6 531.0,1065.6 535.0,1070.0 538.0,1067.0 541.0,1056.0 545.0,1047.6 549.0,1041.6 553.0,1039.6 555.0,1059.6 560.0,1056.4 563.0,1054.0 566.0,1041.0 570.0,1046.4 573.0,1041.0 577.0,1045.0 580.0,1038.0 584.0,1029.6 587.0,1027.6 591.0,1027.0 595.0,1018.0 598.4,1009.6 601.6,1019.0 605.6,1006.0 609.0,1007.0 612.4,1009.6 616.0,1005.0 618.4,980.0 621.0,952.0 624.0,932.0 627.0,912.0 631.0,894.4 633.6,893.0 637.0,879.0 642.0,870.0 646.0,852.0 649.0,836.0 651.6,826.4 654.0,836.0 657.0,826.0 662.0,813.6 665.0,820.0 668.0,816.4 672.0,816.0 676.0,809.0 679.0,806.0 680.0,805.6 687.0,784.0 691.0,760.0 695.0,734.0 700.0,700.0 704.0,676.0 708.0,646.0 713.0,592.0 718.0,546.0 722.0,518.0 726.0,496.0 734.0,440.0 736.0,408.0 740.0,382.0 744.0,397.0 747.6,384.0 751.0,374.0 754.0,330.0 756.0,280.0 765.0,160.0 768.0,128.0 772.0,116.4 776.4,117.0 779.0,88.0 782.0,84.0 786.6,70.0 790.6,71.0 794.0,98.0 797.0,114.0 800.0,126.0 804.0,168.0 808.0,210.0 814.0,244.0 818.0,263.0 825.0,259.4 829.6,278.0 832.4,276.4 836.4,290.0 840.0,310.0 843.6,327.4 847.6,318.4 851.0,332.0 855.0,352.0 858.0,380.0 861.6,416.0 868.0,430.0 870.0,452.0 871.6,476.0 876.0,484.0 879.0,494.0 882.0,510.0 885.0,534.0 888.0,547.0 889.6,550.4 892.0,540.0 894.0,531.6 897.0,525.0 900.4,521.0 903.0,534.4 907.0,533.6 910.0,548.0 914.0,562.0 919.0,574.0 923.0,592.0 927.0,620.0 931.0,640.0 935.6,656.0 939.6,654.4 942.0,670.0 945.0,696.0 946.6,705.6" fill="none" stroke="rgba(0,128,0,0.7)" stroke-width="1"/>
<polyline points="14.5,1745.5 20.0,1745.5 23.0,1746.5 27.0,1751.2 30.0,1756.0 38.0,1756.0 41.0,1751.8 44.5,1750.0 47.5,1751.5 58.0,1746.0 62.0,1751.8 64.0,1756.0 69.0,1756.0 71.0,1751.8 73.0,1747.5 76.5,1745.5 79.5,1745.3 83.0,1736.0 89.0,1724.0 94.6,1712.0 96.0,1698.0 98.0,1691.0 103.0,1678.0 105.0,1673.6 108.0,1670.0 112.0,1658.0 118.0,1643.0 124.0,1634.0 130.0,1623.0 135.0,1618.0 140.0,1604.0 144.0,1601.0 147.0,1592.0 152.0,1586.0 156.0,1572.0 158.0,1560.0 162.0,1544.0 165.4,1528.0 168.0,1511.6 172.0,1523.0 182.0,1503.6 186.0,1504.0 187.6,1516.0 189.6,1530.0 194.0,1546.0 200.0,1574.0 204.0,1588.0 206.0,1587.0 211.0,1610.0 214.0,1618.0 218.0,1636.0 221.0,1651.0 223.0,1652.0 226.0,1650.0 229.0,1654.0 232.0,1662.0 236.0,1665.6 239.0,1665.6 243.0,1658.0 246.0,1651.6 250.0,1658.0 253.0,1638.0 258.0,1610.0 264.0,1586.0 272.0,1554.0 279.0,1534.0 283.0,1522.0 284.0,1506.0 285.4,1482.0 289.0,1478.0 298.0,1473.0 303.0,1468.4 308.0,1473.0 317.0,1473.6 320.0,1469.0 324.0,1456.0 329.0,1447.0 334.0,1444.4 339.6,1441.6 344.0,1447.0 349.0,1453.6 352.4,1453.0 358.0,1460.0 363.0,1468.0 367.6,1473.4 371.0,1468.0 376.0,1465.0 378.0,1462.4 381.6,1466.4 385.0,1463.0 389.0,1457.6 392.0,1455.6 394.0,1444.0 396.0,1438.0 402.0,1424.0 409.0,1406.0 413.0,1386.0 417.0,1364.0 422.0,1352.0 425.0,1346.0 428.0,1336.0 432.0,1333.6 435.6,1337.0 438.4,1328.0 442.0,1319.0 447.0,1350.0 450.0,1368.0 453.0,1412.0 456.0,1460.0 459.0,1500.0 460.0,1520.0 464.0,1558.0 467.0,1574.0 471.0,1583.0 474.0,1590.0 477.6,1600.4 481.0,1589.0 484.0,1587.4 486.4,1570.0 489.0,1556.0 491.0,1520.0 494.0,1480.0 496.0,1456.0 498.4,1438.0 503.0,1424.0 507.0,1404.0 510.0,1392.0 514.0,1376.0 516.6,1363.6 520.6,1385.0 523.6,1385.0 528.0,1375.0 531.0,1370.0 534.0,1360.0 538.4,1345.0 541.6,1351.6 545.0,1349.6 549.0,1340.0 552.6,1331.6 554.0,1320.0 556.0,1298.0 560.0,1286.0 562.4,1282.4 564.0,1292.8 564.0,1294.0 566.4,1305.6 573.3,1314.4 580.3,1306.4 584.0,1312.8 587.7,1315.5 590.9,1313.6 594.4,1308.0 598.4,1303.2 599.5,1292.8 601.6,1275.2 605.9,1270.4 609.6,1261.6 612.8,1247.2 616.5,1241.6 619.7,1245.3 623.2,1224.0 626.4,1204.0 630.4,1218.4 633.6,1215.7 637.6,1222.4 642.4,1208.0 648.5,1192.8 651.7,1174.4 653.6,1150.4 655.5,1128.0 658.4,1110.4 661.9,1100.8 665.0,1075.0 670.0,1070.0 674.0,1058.0 680.0,1046.0 686.0,1032.0 691.0,1016.0 696.0,992.0 700.0,972.0 704.0,944.0 710.0,910.0 714.0,884.0 718.0,850.0 722.0,812.0 726.0,782.0 730.0,756.0 734.0,738.0 736.6,725.6 740.4,756.6 744.0,749.0 747.0,749.0 751.0,745.6 755.0,745.0 759.0,741.0 762.0,706.0 765.6,684.4 768.4,689.4 773.0,679.0 776.4,644.4 779.0,653.0 783.0,635.0 786.6,624.4 790.0,638.0 796.0,660.0 799.0,680.0 800.6,700.0 804.0,720.0 808.0,748.0 814.0,780.0 817.0,800.0 822.0,842.4 826.0,841.0 829.6,827.4 837.0,845.0 842.0,868.0 847.0,894.0 851.0,920.0 854.0,944.0 857.6,955.6 861.4,946.0 864.0,964.0 868.0,996.0 872.0,1020.0 875.0,1044.0 879.6,1074.6 883.0,1070.0 887.0,1055.0 889.6,1051.0 894.0,1047.0 900.0,1020.0 902.0,1000.0 904.0,984.4 908.0,991.0 911.0,989.0 914.6,982.4 917.0,1000.0 921.0,1026.0 924.0,1032.4 928.0,1046.0 932.0,1068.0 936.0,1100.0 940.0,1122.0 943.0,1128.0 946.6,1128.4" fill="none" stroke="rgba(0,128,0,0.7)" stroke-width="1"/>
<path d="M14.0 1683.6V1745.5" stroke="rgba(0,128,0,0.7)" stroke-width="1" fill="none"/>
<polyline points="19.4,1714.0 26.4,1699.4 44.4,1722.4 62.4,1637.6 65.6,1668.0 129.6,1415.6 136.6,1454.4 168.4,1288.4 211.4,1614.0 214.6,1574.0 232.0,1625.0 289.4,1288.0 292.6,1324.0 300.6,1273.6 308.0,1346.0 324.4,1276.4 349.6,1395.6 374.6,1299.6 381.6,1335.0 427.4,1080.0 452.6,1447.0 459.6,1369.5 463.5,1466.0 495.4,1172.0 498.6,1224.0 513.4,1147.0 520.4,1236.0 538.0,1131.0 541.4,1182.0 559.4,1108.4 570.4,1231.5 580.5,1126.7 587.6,1174.0 623.4,857.0 633.6,1041.0 658.6,809.0 670.0,900.0 733.4,348.4 744.4,606.4 765.6,85.0 800.6,728.0 804.4,663.0 811.4,749.0 825.6,538.0 843.4,767.0 847.4,666.0 854.4,855.0 861.4,799.0 871.6,1041.0 875.4,918.0 879.4,973.0 900.4,657.0 946.5,1040.0" fill="none" stroke="#ff0000" stroke-width="1.1" stroke-linejoin="round"/>
</g>
<path d="M385 84.5H951" stroke="#000" stroke-width="1.1" fill="none"/>
<text x="385.5" y="82.7" fill="#111" xml:space="preserve" textLength="82.8" lengthAdjust="spacingAndGlyphs">56.21  (100.0%)</text>
<path d="M385 438.5H951" stroke="#000" stroke-width="1.1" fill="none"/>
<text x="385.5" y="436.7" fill="#111" xml:space="preserve" textLength="76.2" lengthAdjust="spacingAndGlyphs">47.91  (78.6%)</text>
<path d="M385 715.5H951" stroke="#000" stroke-width="1.1" fill="none"/>
<text x="385.5" y="713.7" fill="#111" xml:space="preserve" textLength="76.2" lengthAdjust="spacingAndGlyphs">41.39  (61.8%)</text>
<path d="M385 910.5H951" stroke="#000" stroke-width="1.1" fill="none"/>
<text x="385.5" y="908.7" fill="#111" xml:space="preserve" textLength="76.2" lengthAdjust="spacingAndGlyphs">36.81  (50.0%)</text>
<path d="M385 1105.5H951" stroke="#000" stroke-width="1.1" fill="none"/>
<text x="385.5" y="1103.7" fill="#111" xml:space="preserve" textLength="76.2" lengthAdjust="spacingAndGlyphs">32.23  (38.2%)</text>
<path d="M385 1346.5H951" stroke="#000" stroke-width="1.1" fill="none"/>
<text x="385.5" y="1344.7" fill="#111" xml:space="preserve" textLength="76.2" lengthAdjust="spacingAndGlyphs">26.56  (23.6%)</text>
<path d="M385 1736.5H951" stroke="#000" stroke-width="1.1" fill="none"/>
<text x="385.5" y="1734.7" fill="#111" xml:space="preserve" textLength="69.5" lengthAdjust="spacingAndGlyphs">17.41  (0.0%)</text>
<path d="M658.4 1440L909.4 1136" stroke="#000" stroke-width="1.1" fill="none"/>
<path d="M913.9 1130L904.2 1134.2L911.8 1140.2Z" fill="#000"/>
<text x="955.8" y="103.2" fill="#5a5a5a" textLength="30.6" lengthAdjust="spacingAndGlyphs">55.80</text>
<text x="955.8" y="141.5" fill="#5a5a5a" textLength="30.6" lengthAdjust="spacingAndGlyphs">54.90</text>
<text x="955.8" y="179.9" fill="#5a5a5a" textLength="30.6" lengthAdjust="spacingAndGlyphs">54.00</text>
<text x="955.8" y="218.2" fill="#5a5a5a" textLength="30.6" lengthAdjust="spacingAndGlyphs">53.10</text>
<text x="955.8" y="256.5" fill="#5a5a5a" textLength="30.6" lengthAdjust="spacingAndGlyphs">52.20</text>
<text x="955.8" y="294.9" fill="#5a5a5a" textLength="30.6" lengthAdjust="spacingAndGlyphs">51.30</text>
<text x="955.8" y="333.2" fill="#5a5a5a" textLength="30.6" lengthAdjust="spacingAndGlyphs">50.40</text>
<text x="955.8" y="371.6" fill="#5a5a5a" textLength="30.6" lengthAdjust="spacingAndGlyphs">49.50</text>
<text x="955.8" y="409.9" fill="#5a5a5a" textLength="30.6" lengthAdjust="spacingAndGlyphs">48.60</text>
<text x="955.8" y="448.2" fill="#5a5a5a" textLength="30.6" lengthAdjust="spacingAndGlyphs">47.70</text>
<text x="955.8" y="486.6" fill="#5a5a5a" textLength="30.6" lengthAdjust="spacingAndGlyphs">46.80</text>
<text x="955.8" y="524.9" fill="#5a5a5a" textLength="30.6" lengthAdjust="spacingAndGlyphs">45.90</text>
<text x="955.8" y="563.2" fill="#5a5a5a" textLength="30.6" lengthAdjust="spacingAndGlyphs">45.00</text>
<text x="955.8" y="601.6" fill="#5a5a5a" textLength="30.6" lengthAdjust="spacingAndGlyphs">44.10</text>
<text x="955.8" y="639.9" fill="#5a5a5a" textLength="30.6" lengthAdjust="spacingAndGlyphs">43.20</text>
<text x="955.8" y="678.2" fill="#5a5a5a" textLength="30.6" lengthAdjust="spacingAndGlyphs">42.30</text>
<text x="955.8" y="716.6" fill="#5a5a5a" textLength="30.6" lengthAdjust="spacingAndGlyphs">41.40</text>
<text x="955.8" y="754.9" fill="#5a5a5a" textLength="30.6" lengthAdjust="spacingAndGlyphs">40.50</text>
<text x="955.8" y="793.2" fill="#5a5a5a" textLength="30.6" lengthAdjust="spacingAndGlyphs">39.60</text>
<text x="955.8" y="831.6" fill="#5a5a5a" textLength="30.6" lengthAdjust="spacingAndGlyphs">38.70</text>
<text x="955.8" y="869.9" fill="#5a5a5a" textLength="30.6" lengthAdjust="spacingAndGlyphs">37.80</text>
<text x="955.8" y="908.3" fill="#5a5a5a" textLength="30.6" lengthAdjust="spacingAndGlyphs">36.90</text>
<text x="955.8" y="946.6" fill="#5a5a5a" textLength="30.6" lengthAdjust="spacingAndGlyphs">36.00</text>
<text x="955.8" y="984.9" fill="#5a5a5a" textLength="30.6" lengthAdjust="spacingAndGlyphs">35.10</text>
<text x="955.8" y="1023.3" fill="#5a5a5a" textLength="30.6" lengthAdjust="spacingAndGlyphs">34.20</text>
<text x="955.8" y="1061.6" fill="#5a5a5a" textLength="30.6" lengthAdjust="spacingAndGlyphs">33.30</text>
<text x="955.8" y="1099.9" fill="#5a5a5a" textLength="30.6" lengthAdjust="spacingAndGlyphs">32.40</text>
<text x="955.8" y="1138.3" fill="#5a5a5a" textLength="30.6" lengthAdjust="spacingAndGlyphs">31.50</text>
<text x="955.8" y="1176.6" fill="#5a5a5a" textLength="30.6" lengthAdjust="spacingAndGlyphs">30.60</text>
<text x="955.8" y="1214.9" fill="#5a5a5a" textLength="30.6" lengthAdjust="spacingAndGlyphs">29.70</text>
<text x="955.8" y="1253.3" fill="#5a5a5a" textLength="30.6" lengthAdjust="spacingAndGlyphs">28.80</text>
<text x="955.8" y="1291.6" fill="#5a5a5a" textLength="30.6" lengthAdjust="spacingAndGlyphs">27.90</text>
<text x="955.8" y="1330.0" fill="#5a5a5a" textLength="30.6" lengthAdjust="spacingAndGlyphs">27.00</text>
<text x="955.8" y="1368.3" fill="#5a5a5a" textLength="30.6" lengthAdjust="spacingAndGlyphs">26.10</text>
<text x="955.8" y="1406.6" fill="#5a5a5a" textLength="30.6" lengthAdjust="spacingAndGlyphs">25.20</text>
<text x="955.8" y="1445.0" fill="#5a5a5a" textLength="30.6" lengthAdjust="spacingAndGlyphs">24.30</text>
<text x="955.8" y="1483.3" fill="#5a5a5a" textLength="30.6" lengthAdjust="spacingAndGlyphs">23.40</text>
<text x="955.8" y="1521.6" fill="#5a5a5a" textLength="30.6" lengthAdjust="spacingAndGlyphs">22.50</text>
<text x="955.8" y="1560.0" fill="#5a5a5a" textLength="30.6" lengthAdjust="spacingAndGlyphs">21.60</text>
<text x="955.8" y="1598.3" fill="#5a5a5a" textLength="30.6" lengthAdjust="spacingAndGlyphs">20.70</text>
<text x="955.8" y="1636.6" fill="#5a5a5a" textLength="30.6" lengthAdjust="spacingAndGlyphs">19.80</text>
<text x="955.8" y="1675.0" fill="#5a5a5a" textLength="30.6" lengthAdjust="spacingAndGlyphs">18.90</text>
<text x="955.8" y="1713.3" fill="#5a5a5a" textLength="30.6" lengthAdjust="spacingAndGlyphs">18.00</text>
<text x="955.8" y="1751.6" fill="#5a5a5a" textLength="30.6" lengthAdjust="spacingAndGlyphs">17.10</text>
<rect x="953" y="51.0" width="47" height="16.8" fill="#008000"/>
<text x="955.8" y="63.9" fill="#fff" stroke="#fff" stroke-width="0.2" textLength="30.6" lengthAdjust="spacingAndGlyphs">56.82</text>
<rect x="953" y="1043.0" width="47" height="16.8" fill="#3d6be6"/>
<text x="955.8" y="1055.9" fill="#fff" stroke="#fff" stroke-width="0.2" textLength="30.6" lengthAdjust="spacingAndGlyphs">33.51</text>
<rect x="953" y="1725.0" width="47" height="16.8" fill="#c00000"/>
<text x="955.8" y="1737.9" fill="#fff" stroke="#fff" stroke-width="0.2" textLength="30.6" lengthAdjust="spacingAndGlyphs">17.50</text>
<text x="79.4" y="1768" fill="#5a5a5a" textLength="46.2" lengthAdjust="spacingAndGlyphs">04/2018</text>
<text x="157.4" y="1768" fill="#5a5a5a" textLength="46.2" lengthAdjust="spacingAndGlyphs">09/2018</text>
<text x="235.4" y="1768" fill="#5a5a5a" textLength="46.2" lengthAdjust="spacingAndGlyphs">02/2019</text>
<text x="314.4" y="1768" fill="#5a5a5a" textLength="46.2" lengthAdjust="spacingAndGlyphs">07/2019</text>
<text x="392.4" y="1768" fill="#5a5a5a" textLength="46.2" lengthAdjust="spacingAndGlyphs">12/2019</text>
<text x="470.4" y="1768" fill="#5a5a5a" textLength="46.2" lengthAdjust="spacingAndGlyphs">05/2020</text>
<text x="548.4" y="1768" fill="#5a5a5a" textLength="46.2" lengthAdjust="spacingAndGlyphs">10/2020</text>
<text x="626.4" y="1768" fill="#5a5a5a" textLength="46.2" lengthAdjust="spacingAndGlyphs">03/2021</text>
<text x="704.4" y="1768" fill="#5a5a5a" textLength="46.2" lengthAdjust="spacingAndGlyphs">08/2021</text>
<text x="782.4" y="1768" fill="#5a5a5a" textLength="46.2" lengthAdjust="spacingAndGlyphs">01/2022</text>
<text x="861.4" y="1768" fill="#5a5a5a" textLength="46.2" lengthAdjust="spacingAndGlyphs">06/2022</text>
<text y="13.2" fill="#777"><tspan x="13.2" textLength="127" lengthAdjust="spacingAndGlyphs">DASSAULT SYSTEMES -</tspan><tspan x="143.2" textLength="83.6" lengthAdjust="spacingAndGlyphs">abcbourse.com</tspan></text>
<text x="869" y="13" fill="#777" textLength="82.5" lengthAdjust="spacingAndGlyphs">5 ANS - HEBDO</text>
<text x="19" y="33.2" fill="#3f9f3f" textLength="86.2" lengthAdjust="spacingAndGlyphs">KELTNER (20, 2)</text>
<text x="119.8" y="33.2" fill="#444" textLength="41.2" lengthAdjust="spacingAndGlyphs">PIVOTS</text>
<text x="175.3" y="33.2" fill="#f01010" textLength="62.8" lengthAdjust="spacingAndGlyphs">ZIG ZAG (3)</text>
</svg>
</body></html>
